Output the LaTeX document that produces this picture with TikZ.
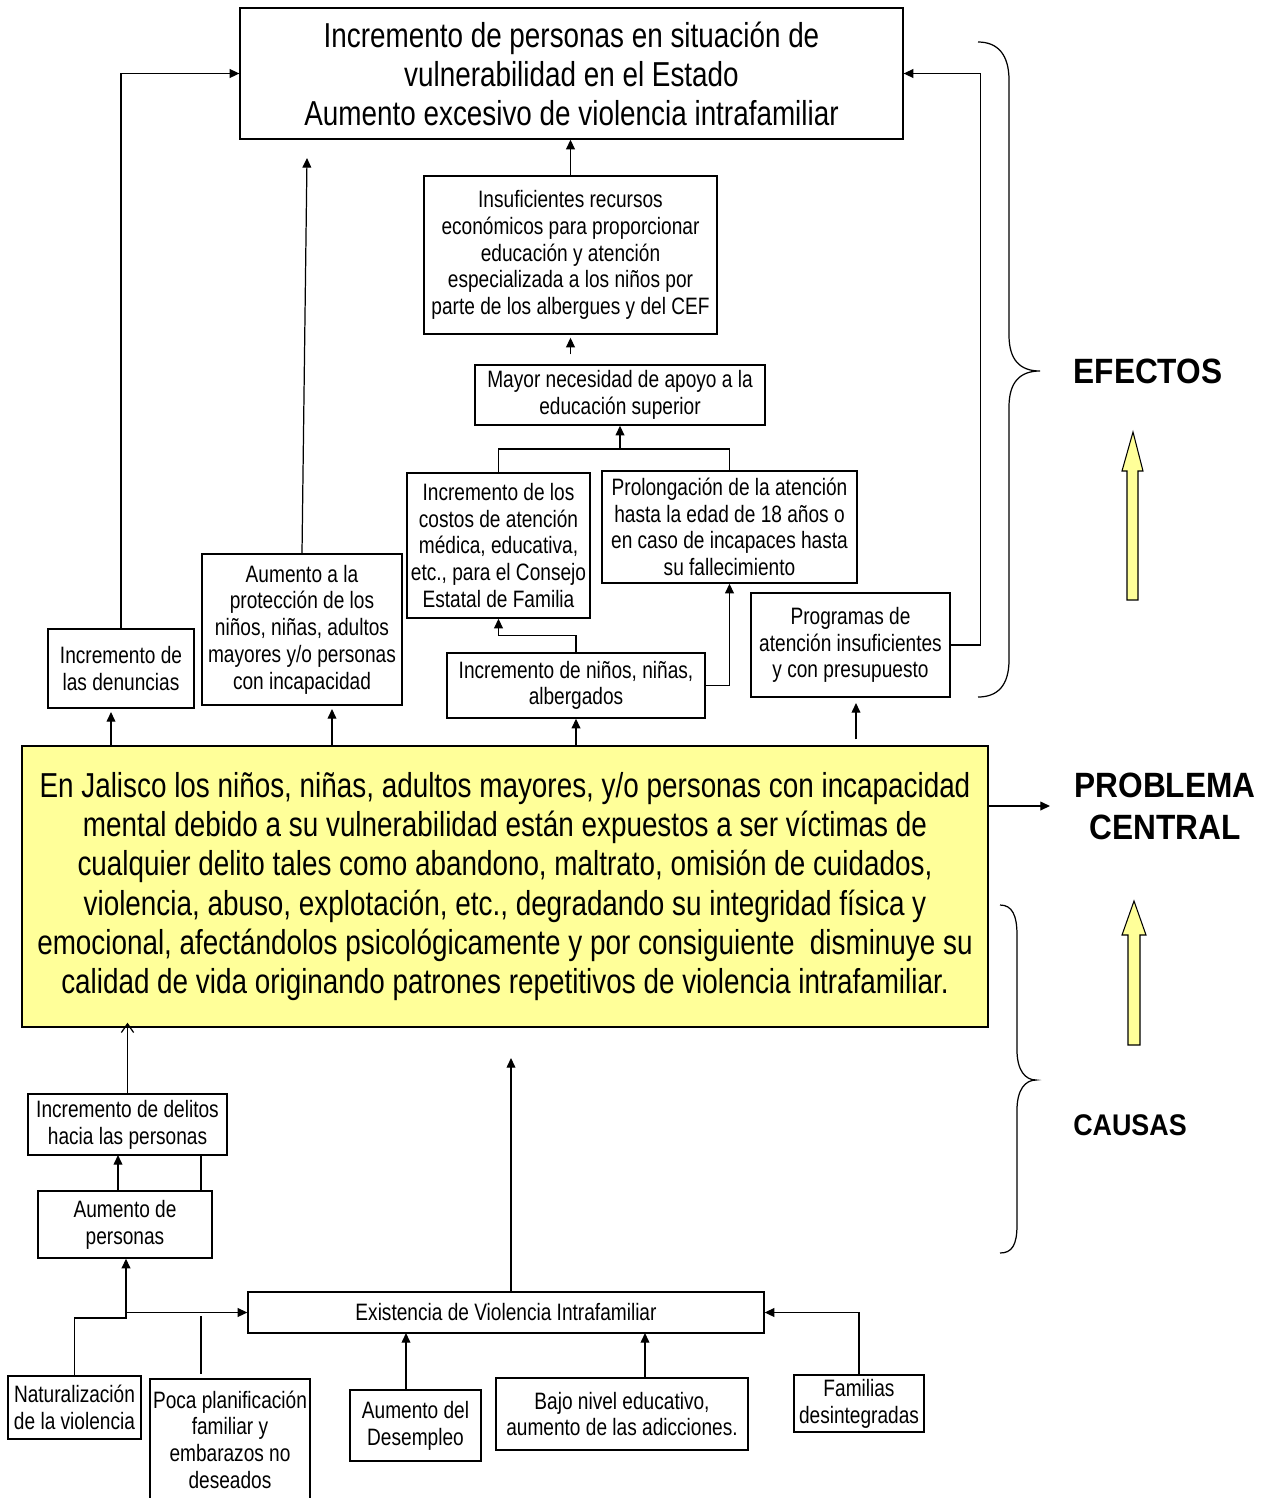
\documentclass[tikz,border=0pt]{standalone}
\usepackage{fontspec}
\setmainfont{Liberation Sans}[FakeStretch=0.805]
\newfontfamily\labfont{Liberation Sans}[FakeStretch=0.9]
\usetikzlibrary{arrows.meta}
\definecolor{amarillo}{HTML}{FFFF99}

\begin{document}
\begin{tikzpicture}[x=0.02cm, y=-0.02cm,
			box/.style={draw, rectangle, align=center, inner sep=0pt, line width=0.8pt, font=\fontsize{13.5}{15.2}\selectfont},
			arrow/.style={-{Triangle[length=5.5pt,width=5pt]}, line width=0.7pt},
			openarrow/.style={-{Straight Barb[length=5pt,width=7pt]}, line width=0.7pt},
			line/.style={line width=0.7pt},
			lab/.style={font=\labfont\bfseries\fontsize{20}{24}\selectfont, align=center},
			bigarrow/.style={draw, fill=amarillo, line width=0.6pt}]
			\useasboundingbox (0,0) rectangle (1267,1498);
			
			% efectos
			\node[box, font=\fontsize{19.7}{22.2}\selectfont, minimum width=13.26cm, minimum height=2.62cm] (vulner) at (571.5,73.5) {Incremento de personas en situación de\\vulnerabilidad en el Estado\\Aumento excesivo de violencia intrafamiliar};
			\node[box, minimum width=5.86cm, minimum height=3.16cm] (recursos) at (570.5,255) {Insuficientes recursos\\económicos para proporcionar\\educación y atención\\especializada a los niños por\\parte de los albergues y del CEF};
			\node[box, minimum width=5.8cm, minimum height=1.2cm] (apoyo) at (620,395) {Mayor necesidad de apoyo a la\\educación superior};
			\node[box, minimum width=3.66cm, minimum height=2.9cm] (costos) at (498.5,545.5) {Incremento de los\\costos de atención\\médica, educativa,\\etc., para el Consejo\\Estatal de Familia};
			\node[box, minimum width=5.1cm, minimum height=2.24cm] (prolong) at (729.5,527) {Prolongación de la atención\\hasta la edad de 18 años o\\en caso de incapaces hasta\\su fallecimiento};
			\node[box, minimum width=2.92cm, minimum height=1.58cm] (denuncias) at (121,668.5) {Incremento de\\las denuncias};
			\node[box, minimum width=4cm, minimum height=3.02cm] (proteccion) at (302,629.5) {Aumento a la\\protección de los\\niños, niñas, adultos\\mayores y/o personas\\con incapacidad};
			\node[box, minimum width=5.16cm, minimum height=1.3cm] (albergados) at (576,685.5) {Incremento de niños, niñas,\\albergados};
			\node[box, minimum width=3.98cm, minimum height=2.08cm] (programas) at (850.5,645) {Programas de\\atención insuficientes\\y con presupuesto};
			
			% problema central
			\node[box, fill=amarillo, font=\fontsize{19.7}{22.4}\selectfont, minimum width=19.32cm, minimum height=5.62cm] (problema) at (505,886.5) {En Jalisco los niños, niñas, adultos mayores, y/o personas con incapacidad\\mental debido a su vulnerabilidad están expuestos a ser víctimas de\\cualquier delito tales como abandono, maltrato, omisión de cuidados,\\violencia, abuso, explotación, etc., degradando su integridad física y\\emocional, afectándolos psicológicamente y por consiguiente \ disminuye su\\calidad de vida originando patrones repetitivos de violencia intrafamiliar.};
			
			% causas
			\node[box, minimum width=3.98cm, minimum height=1.22cm] (delitos) at (127.5,1124.5) {Incremento de delitos\\hacia las personas};
			\node[box, minimum width=3.48cm, minimum height=1.34cm] (aumento) at (125,1224.5) {Aumento de\\personas};
			\node[box, minimum width=10.32cm, minimum height=0.82cm] (violencia) at (506,1312.5) {Existencia de Violencia Intrafamiliar};
			\node[box, minimum width=2.66cm, minimum height=1.26cm] (natural) at (74.5,1407.5) {Naturalización\\de la violencia};
			\node[box, minimum width=3.2cm, minimum height=2.42cm] (planif) at (230,1439.5) {Poca planificación\\familiar y\\embarazos no\\deseados};
			\node[box, minimum width=2.62cm, minimum height=1.42cm] (desempleo) at (415.5,1425.5) {Aumento del\\Desempleo};
			\node[box, minimum width=5.04cm, minimum height=1.44cm] (educativo) at (622,1414) {Bajo nivel educativo,\\aumento de las adicciones.};
			\node[box, minimum width=2.6cm, minimum height=1.14cm] (familias) at (859,1403.5) {Familias\\desintegradas};
			
			% etiquetas
			\node[lab] (efectos) at (1148,371) {EFECTOS};
			\node[lab] (central) at (1165,806) {PROBLEMA\\CENTRAL};
			\node[lab, font=\labfont\bfseries\fontsize{17}{20}\selectfont] (causas) at (1130,1125) {CAUSAS};
			
			% flechas amarillas
			\draw[bigarrow] (1127,600) -- (1127,471) -- (1122,471) -- (1133,432) -- (1143,471) -- (1138,471) -- (1138,600) -- cycle;
			\draw[bigarrow] (1128,1045) -- (1128,935) -- (1122,935) -- (1134,901) -- (1146,935) -- (1140,935) -- (1140,1045) -- cycle;
			
			% llaves
			\draw[line] (978,42) .. controls (998,42) and (1009,55) .. (1009,80) -- (1009,335) .. controls (1009,360) and (1020,371) .. (1040,371) .. controls (1020,371) and (1009,382) .. (1009,407) -- (1009,660) .. controls (1009,685) and (998,697) .. (978,697);
			\draw[line] (1000,905) .. controls (1012,905) and (1017,915) .. (1017,935) -- (1017,1050) .. controls (1017,1070) and (1025,1080) .. (1036,1080) .. controls (1025,1080) and (1017,1090) .. (1017,1110) -- (1017,1225) .. controls (1017,1245) and (1012,1253) .. (1000,1253);
			
			% conexiones efectos
			\draw[arrow] (recursos.north) -- (recursos.north |- vulner.south);
			\draw[arrow, shorten <=0.2cm, shorten >=0.06cm] (apoyo.north -| recursos.south) -- (recursos.south);
			\coordinate (junta) at (620,449);
			\draw[arrow] (costos.north) |- (junta) -- (apoyo.south);
			\draw[line] (prolong.north) |- (junta);
			\draw[arrow] (albergados.north) -- ++(0,-17) -| (costos.south);
			\draw[arrow] (albergados.east) -| (prolong.south);
			\draw[arrow] (programas.east) -- ++(30,0) |- (vulner.east);
			\draw[arrow] (denuncias.north) |- (vulner.west);
			\coordinate (tipprot) at (307,158);
			\draw[arrow] (proteccion.north) -- (tipprot);
			
			% conexiones problema
			\coordinate (tipden) at (111,712);
			\coordinate (tippro) at (332,709);
			\coordinate (tipprog) at (856,703);
			\coordinate (tipcen) at (1050,806);
			\draw[arrow] (problema.north -| tipden) -- (tipden);
			\draw[arrow] (problema.north -| tippro) -- (tippro);
			\draw[arrow] (problema.north -| albergados.south) -- (albergados.south);
			\draw[arrow, shorten <=0.12cm] (problema.north -| tipprog) -- (tipprog);
			\draw[arrow] (problema.east |- tipcen) -- (tipcen);
			
			% conexiones causas
			\draw[openarrow, shorten >=-0.1cm] (delitos.north) -- (delitos.north |- problema.south);
			\coordinate (d1) at (118,1155);
			\coordinate (d2) at (201,1155);
			\draw[arrow] (aumento.north -| d1) -- (d1);
			\draw[line] (aumento.north -| d2) -- (d2);
			\coordinate (nat) at (126,1318);
			\draw[arrow] (natural.north) |- (nat) -- (nat |- aumento.south);
			\draw[arrow] (nat |- violencia.west) -- (violencia.west);
			\coordinate (plan) at (201,1316);
			\draw[line, shorten >=0.08cm] (plan) -- (plan |- planif.north);
			\coordinate (v1) at (406,1333);
			\coordinate (v2) at (645,1333);
			\draw[arrow] (v1 |- desempleo.north) -- (v1);
			\draw[arrow] (v2 |- educativo.north) -- (v2);
			\draw[arrow] (familias.north) |- (violencia.east);
			\coordinate (tipvio) at (511,1058);
			\draw[arrow] (tipvio |- violencia.north) -- (tipvio);
			
		\end{tikzpicture}
\end{document}
